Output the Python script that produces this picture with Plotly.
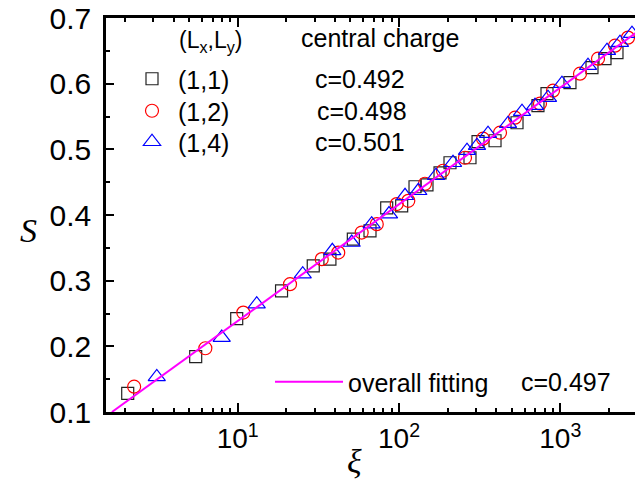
import plotly.graph_objects as go

# ---- data ----
xi_11 = [2.08, 5.49, 9.86, 18.7, 29.4, 37.3, 52.1, 66.1, 83.9, 103.9, 125.7, 149.1, 179.6,
         207.1, 275.5, 309, 393.8, 539, 727, 827, 1148, 1572, 1893, 2246]
S_11 = [0.1285, 0.1843, 0.2422, 0.2845, 0.3226, 0.3328, 0.3633, 0.3759, 0.411, 0.414, 0.443,
        0.446, 0.4643, 0.4796, 0.4872, 0.5116, 0.5131, 0.5405, 0.5665, 0.5848, 0.6015, 0.6244,
        0.6381, 0.6473]

xi_12 = [2.28, 6.30, 10.83, 21.1, 33.2, 42.0, 58.7, 72.8, 96.8, 114.2, 144.9, 187.4, 256.6,
         331.7, 422.9, 523.8, 748.3, 900.7, 1325, 1713, 2184, 2628]
S_12 = [0.1386, 0.1971, 0.2514, 0.2947, 0.3328, 0.3428, 0.3733, 0.3861, 0.4166, 0.4216, 0.4476,
        0.4674, 0.4872, 0.5162, 0.5253, 0.5482, 0.5695, 0.5893, 0.6152, 0.6381, 0.6579, 0.6701]

xi_14 = [3.15, 7.96, 13.12, 25.3, 38.6, 50.9, 67.7, 86.7, 109, 131.8, 169.6, 216.2, 264, 304.5,
         356.3, 474.1, 578.8, 696.8, 838.8, 1024, 1485, 1948, 2344, 2782]
S_14 = [0.1534, 0.2133, 0.2642, 0.3099, 0.3454, 0.3581, 0.3861, 0.4014, 0.4293, 0.4369, 0.4598,
        0.4796, 0.4979, 0.5055, 0.5238, 0.539, 0.5573, 0.5665, 0.5787, 0.6, 0.6274, 0.6503,
        0.6625, 0.6762]

fit_xi = [1.66, 3000]
fit_S = [0.100, 0.6788]

labels = ["(1,1)", "(1,2)", "(1,4)"]
charges = ["c=0.492", "c=0.498", "c=0.501"]
fit_label = "overall fitting"
fit_charge = "c=0.497"

x_tickvals = [10, 100, 1000]
x_ticktext = ["10<sup>1</sup>", "10<sup>2</sup>", "10<sup>3</sup>"]
x_minor = [2, 3, 4, 5, 6, 7, 8, 9, 20, 30, 40, 50, 60, 70, 80, 90,
           200, 300, 400, 500, 600, 700, 800, 900, 2000, 3000]
y_tickvals = [0.1, 0.2, 0.3, 0.4, 0.5, 0.6, 0.7]

FONT = "Liberation Sans, Arial, sans-serif"
SERIF = "Liberation Serif, Times New Roman, serif"

# ---- layout helpers (pixel -> paper) ----
L, R, T, B = 106, 635, 18, 412
W, H = 635, 483


def px(x):
    return (x - L) / (R - L)


def py(y):
    return (B - y) / (B - T)


fig = go.Figure()
fig.add_trace(go.Scatter(x=xi_11, y=S_11, mode="markers", name=labels[0], legend="legend",
                         marker=dict(symbol="square-open", size=12, color="#222222",
                                     line=dict(width=1.2, color="#222222"))))
fig.add_trace(go.Scatter(x=xi_12, y=S_12, mode="markers", name=labels[1], legend="legend3",
                         marker=dict(symbol="circle-open", size=13, color="#ff0000",
                                     line=dict(width=1.2, color="#ff0000"))))
fig.add_trace(go.Scatter(x=xi_14, y=S_14, mode="markers", name=labels[2], legend="legend4",
                         marker=dict(symbol="triangle-up-open", size=15, color="#0000ff",
                                     line=dict(width=1.2, color="#0000ff"))))
fig.add_trace(go.Scatter(x=fit_xi, y=fit_S, mode="lines", name=fit_label, legend="legend2",
                         line=dict(color="#ff00ff", width=2)))


def leg(xpx, ypx, iw, size):
    return dict(x=px(xpx), y=py(ypx), xanchor="left", yanchor="middle",
                bgcolor="rgba(0,0,0,0)", borderwidth=0, itemwidth=iw,
                font=dict(size=size, family=FONT))


fig.update_layout(
    width=W, height=H,
    margin=dict(l=L, r=W - R, t=T, b=H - B, pad=0),
    plot_bgcolor="white", paper_bgcolor="white",
    font=dict(family=FONT, color="black", size=25),
    showlegend=True,
    legend=leg(126, 79, 42, 25),
    legend3=leg(126, 111, 42, 25),
    legend4=leg(126, 142, 42, 25),
    legend2=leg(270, 382, 68, 25),
)

fig.update_xaxes(
    type="log", range=[0.1835, 3.4631],
    showgrid=False, zeroline=False,
    showline=True, linecolor="black", linewidth=2.5, mirror="ticks",
    ticks="inside", ticklen=9, tickwidth=2, tickcolor="black",
    tickvals=x_tickvals, ticktext=x_ticktext,
    tickfont=dict(size=28, family=FONT, color="black"),
    minor=dict(tickvals=x_minor, ticks="inside", ticklen=4, tickwidth=1.5, tickcolor="black"),
)
fig.update_yaxes(
    range=[0.1, 0.7],
    showgrid=False, zeroline=False,
    showline=True, linecolor="black", linewidth=2.5, mirror=False,
    ticks="inside", ticklen=8, tickwidth=2, tickcolor="black",
    tickvals=y_tickvals, tickformat=".1f",
    ticklabelstandoff=6,
    tickfont=dict(size=30, family=FONT, color="black"),
    minor=dict(dtick=0.05, ticks="inside", ticklen=4, tickwidth=1.5, tickcolor="black"),
)

ann = []
ann.append(dict(text="(L<sub>x</sub>,L<sub>y</sub>)", x=px(177), y=py(42), xref="paper", yref="paper",
                xanchor="left", yanchor="middle", showarrow=False, font=dict(size=23, family=FONT)))
ann.append(dict(text="central charge", x=px(299), y=py(38), xref="paper", yref="paper",
                xanchor="left", yanchor="middle", showarrow=False, font=dict(size=25, family=FONT)))
for i, (c, yy) in enumerate(zip(charges, [79, 111, 142])):
    ann.append(dict(text=c, x=px(313 + (2 if i == 1 else 0)), y=py(yy), xref="paper", yref="paper",
                    xanchor="left", yanchor="middle", showarrow=False, font=dict(size=25, family=FONT)))
ann.append(dict(text=fit_charge, x=px(519), y=py(382), xref="paper", yref="paper",
                xanchor="left", yanchor="middle", showarrow=False, font=dict(size=25, family=FONT)))
ann.append(dict(text="<i>S</i>", x=px(28), y=py(230), xref="paper", yref="paper",
                xanchor="center", yanchor="middle", showarrow=False,
                font=dict(size=34, family=SERIF)))
ann.append(dict(text="<i>ξ</i>", x=px(354), y=py(461), xref="paper", yref="paper",
                xanchor="center", yanchor="middle", showarrow=False,
                font=dict(size=34, family=SERIF)))
fig.update_layout(annotations=ann)

fig.write_html("out.html")
